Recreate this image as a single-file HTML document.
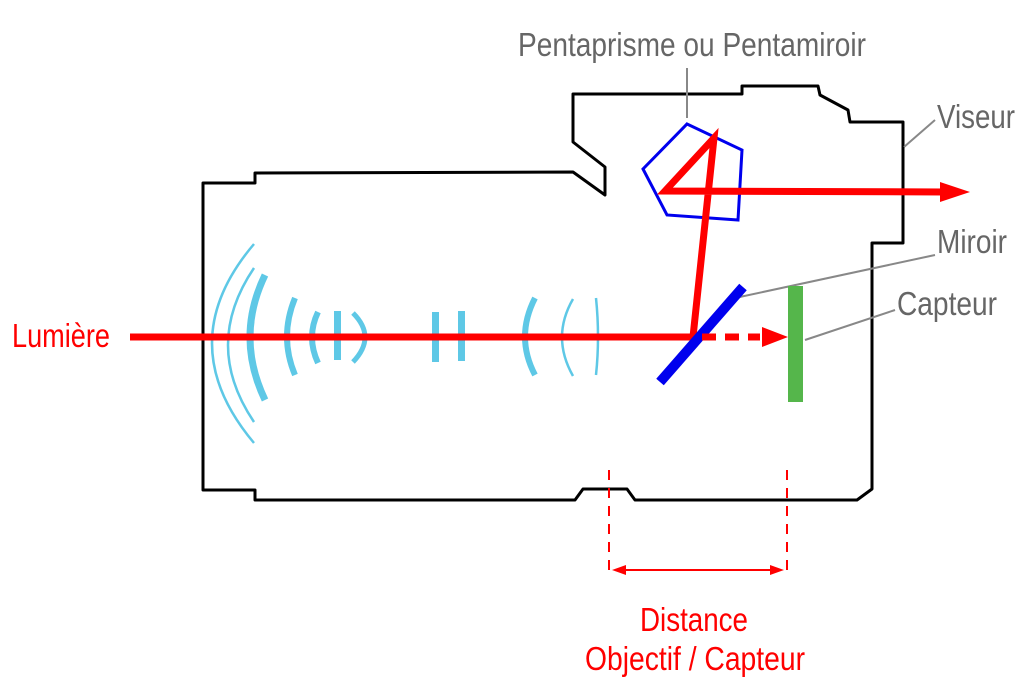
<!DOCTYPE html>
<html><head><meta charset="utf-8"><style>
html,body{margin:0;padding:0;background:#fff;}
svg{display:block;}
text{font-family:"Liberation Sans",sans-serif;}
</style></head><body>
<svg width="1036" height="694" viewBox="0 0 1036 694" xmlns="http://www.w3.org/2000/svg">
<path d="M203,183 L255,183 L255,173 L573,172 L605,195 L605,167 L573,142 L573,94 L742,94 L742,86 L818,86 L820,95 L848,110 L850,122 L903,122 L903,243 L872,243 L872,489 L857,500 L635,500 L627,489 L583,489 L575,500 L255,500 L255,490 L203,490 Z" fill="none" stroke="#000" stroke-width="3" stroke-linejoin="round"/>
<g fill="none" stroke="#5ec8e6" stroke-linecap="butt">
<path d="M254,244 Q170,343 254,443" stroke-width="2.5"/>
<path d="M254,268 Q202,345 254,422" stroke-width="2.5"/>
<path d="M265,275 Q235,337 265,400" stroke-width="7"/>
<path d="M295,298 Q279,337 295,375" stroke-width="6"/>
<path d="M318,312 Q306,337 318,363" stroke-width="6"/>
<path d="M353,313 Q377,337 353,362" stroke-width="5"/>
<path d="M535,298 Q515,337 535,375" stroke-width="6"/>
<path d="M573,299 Q551,337 573,376" stroke-width="2.5"/>
<path d="M596,298 Q600,337 596,375" stroke-width="2.5"/>
</g>
<g fill="#5ec8e6">
<rect x="334" y="311" width="7" height="49"/>
<rect x="432" y="312" width="7" height="50"/>
<rect x="458" y="311" width="7" height="50"/>
</g>
<g stroke="#888" stroke-width="2">
<line x1="687" y1="68" x2="687" y2="118"/>
<line x1="904" y1="147" x2="935" y2="120"/>
<line x1="735" y1="298" x2="935" y2="255"/>
<line x1="805" y1="340" x2="895" y2="310"/>
</g>
<polygon points="687,124 742,150 738,220 667,215 643,169" fill="none" stroke="#0000ee" stroke-width="3"/>
<g stroke="#ff0000" stroke-width="7" fill="none" stroke-linejoin="miter">
<polyline points="130,337 693,337 714,138 665,191 945,192"/>
</g>
<polygon points="940,182 970,192 940,202" fill="#ff0000"/>
<line x1="660" y1="382" x2="743" y2="287" stroke="#0000ee" stroke-width="10"/>
<line x1="702" y1="337" x2="760" y2="337" stroke="#ff0000" stroke-width="7" stroke-dasharray="14,9"/>
<polygon points="762,327 788,337 762,347" fill="#ff0000"/>
<rect x="788" y="286" width="15" height="116" fill="#55b64b"/>
<g stroke="#ff0000" stroke-width="2" stroke-dasharray="10,8">
<line x1="609" y1="470" x2="609" y2="570"/>
<line x1="787" y1="470" x2="787" y2="570"/>
</g>
<line x1="620" y1="570" x2="776" y2="570" stroke="#ff0000" stroke-width="2"/>
<polygon points="612,570 626,565 626,575" fill="#ff0000"/>
<polygon points="784,570 770,565 770,575" fill="#ff0000"/>
<g font-size="33" fill="#666">
<text x="518" y="56" textLength="348" lengthAdjust="spacingAndGlyphs">Pentaprisme ou Pentamiroir</text>
<text x="937" y="128" textLength="78" lengthAdjust="spacingAndGlyphs">Viseur</text>
<text x="937" y="253" textLength="70" lengthAdjust="spacingAndGlyphs">Miroir</text>
<text x="897" y="315" textLength="100" lengthAdjust="spacingAndGlyphs">Capteur</text>
</g>
<g font-size="33" fill="#ff0000">
<text x="12" y="347" textLength="98" lengthAdjust="spacingAndGlyphs">Lumière</text>
<text x="640" y="631" textLength="108" lengthAdjust="spacingAndGlyphs">Distance</text>
<text x="585" y="670" textLength="220" lengthAdjust="spacingAndGlyphs">Objectif / Capteur</text>
</g>
</svg>
</body></html>
